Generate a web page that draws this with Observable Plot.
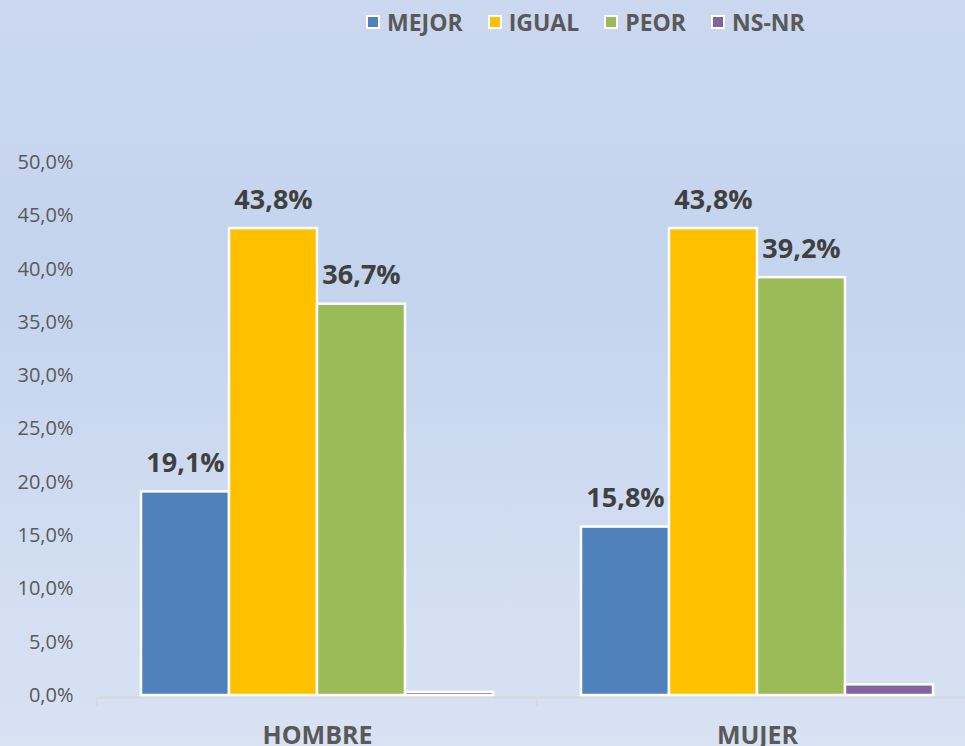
<!DOCTYPE html>
<html>
<head>
<meta charset="utf-8">
<script src="https://cdn.jsdelivr.net/npm/d3@7"></script>
<script src="https://cdn.jsdelivr.net/npm/@observablehq/plot@0.6"></script>
<style>
html, body { margin: 0; padding: 0; width: 965px; height: 746px; overflow: hidden; }
body {
  background: linear-gradient(180deg, #cbd8ef 0%, #c4d4ed 38%, #d0dcf1 70%, #d8e2f3 100%);
  font-family: "Open Sans", sans-serif;
  position: relative;
}
#legend { position: absolute; top: 6px; left: 366px; display: flex; align-items: center; font-weight: 700; font-size: 23px; color: #595959; }
#legend .item { display: flex; align-items: center; margin-right: 25px; }
#legend .sw { width: 10px; height: 10px; border: 2.5px solid #fff; margin-right: 7px; }
#chart { position: absolute; top: 0; left: 0; width: 977px; }
</style>
</head>
<body>
<div id="legend"></div>
<div id="chart"></div>
<script>
const categories = ["HOMBRE", "MUJER"];
const series = ["MEJOR", "IGUAL", "PEOR", "NS-NR"];
const hombre = [19.1, 43.8, 36.7, 0.3];
const mujer = [15.8, 43.8, 39.2, 1.0];
const showLabel = [true, true, true, false];
const colors = ["#4f81bd", "#ffc000", "#9bbb59", "#8064a2"];
const yTicks = [0, 5, 10, 15, 20, 25, 30, 35, 40, 45, 50];

const values = [hombre, mujer];
const rows = categories.flatMap((c, i) => series.map((s, j) => ({cat: c, series: s, value: values[i][j], show: showLabel[j]})));
const fmt = d => d.toFixed(1).replace(".", ",") + "%";

const legend = document.getElementById("legend");
series.forEach((s, j) => {
  const it = document.createElement("div");
  it.className = "item";
  it.innerHTML = `<span class="sw" style="background:${colors[j]}"></span><span>${s}</span>`;
  legend.appendChild(it);
});

const chart = Plot.plot({
  width: 977,
  height: 746,
  marginLeft: 97,
  marginRight: 0,
  marginTop: 162,
  marginBottom: 51,
  style: {background: "transparent", fontFamily: "Open Sans, sans-serif", overflow: "visible", maxWidth: "none"},
  fx: {domain: categories, padding: 0, label: null},
  x: {domain: series, paddingInner: 0, paddingOuter: 0.49, axis: null},
  y: {domain: [0, 50], label: null},
  color: {domain: series, range: colors},
  marks: [
    Plot.axisY({ticks: yTicks, tickFormat: fmt, tickSize: 0, tickPadding: 24, fontSize: 20, fill: "#595959", label: null}),
    Plot.axisFx({anchor: "bottom", tickSize: 0, tickPadding: 31, fontSize: 25, fontWeight: 700, fill: "#595959", label: null}),
    Plot.ruleY([0], {stroke: "#d6d9de", strokeWidth: 2, dy: 2}),
    Plot.barY(rows, {fx: "cat", x: "series", y: "value", fill: "series", stroke: "#fff", strokeWidth: 2.5}),
    Plot.text(rows.filter(d => d.show), {fx: "cat", x: "series", y: "value", text: d => fmt(d.value), lineAnchor: "bottom", dy: -20, fontSize: 27, fontWeight: 700, fill: "#404040"})
  ]
});
document.getElementById("chart").appendChild(chart);

// boundary ticks under the category axis, from the fx scale
const fx = chart.scale("fx");
const y = chart.scale("y");
const y0 = y.apply(0) + 2;
const edges = categories.map(c => fx.apply(c)).concat([fx.apply(categories[categories.length - 1]) + fx.bandwidth]);
d3.select(chart).append("g")
  .attr("stroke", "#d6d9de").attr("stroke-width", 2)
  .selectAll("line").data(edges).join("line")
  .attr("x1", d => d).attr("x2", d => d)
  .attr("y1", y0).attr("y2", y0 + 9);
</script>
</body>
</html>
